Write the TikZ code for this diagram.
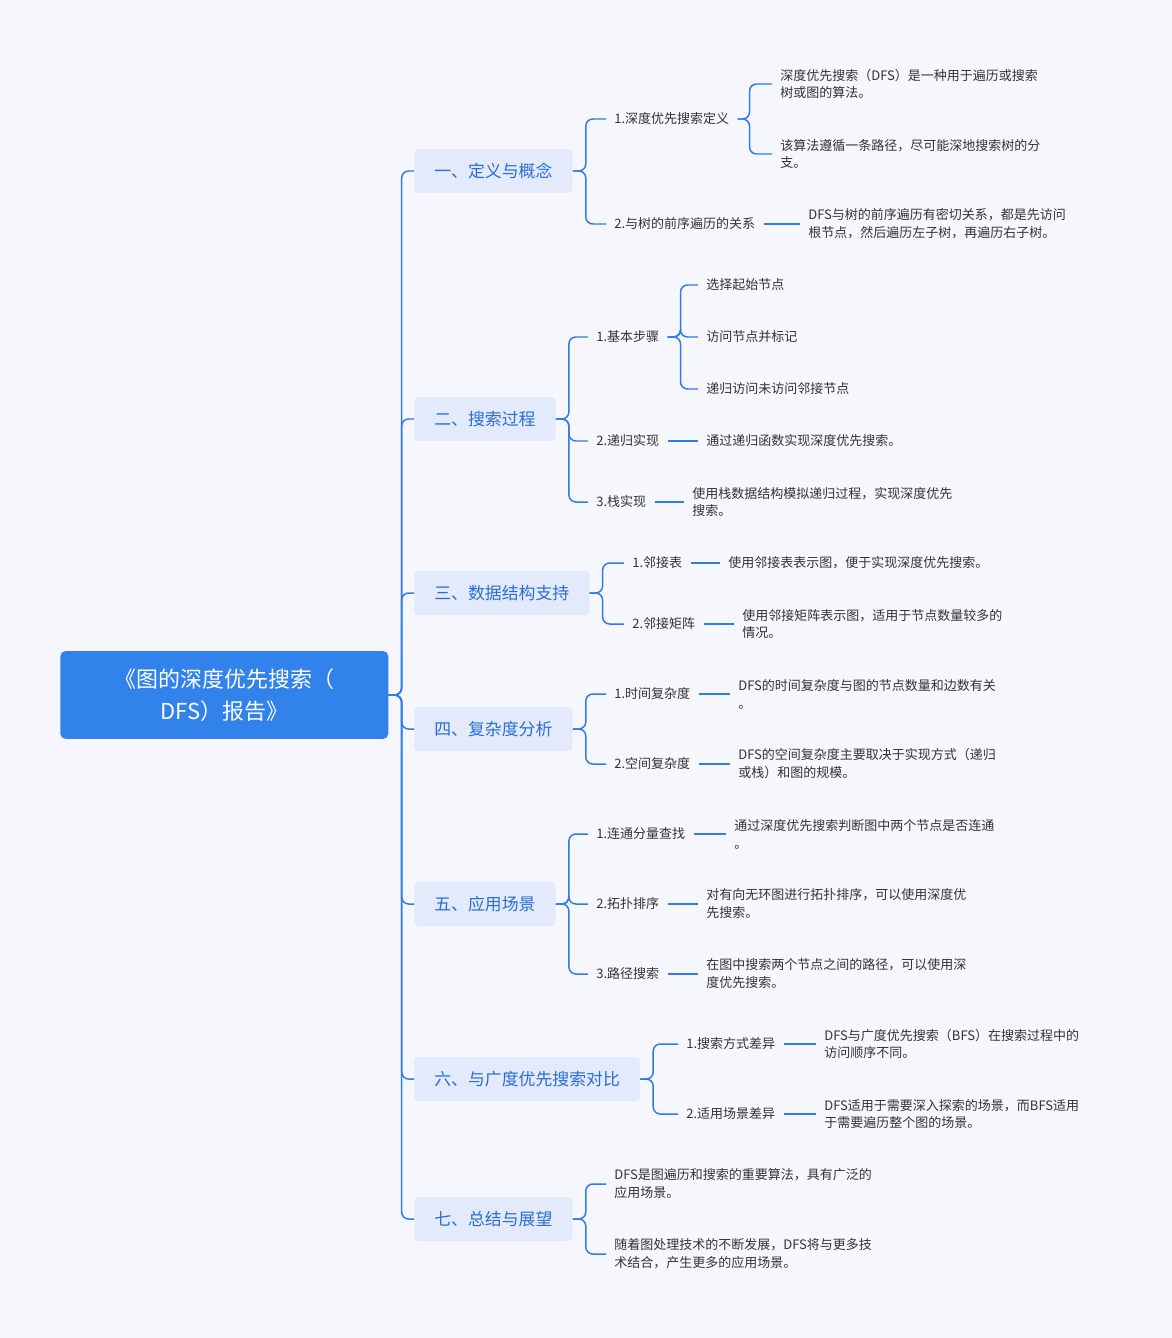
\documentclass[tikz,border=0pt]{standalone}
\usepackage{fontspec}
\setmainfont{Noto Sans CJK SC}
\usetikzlibrary{positioning}
\definecolor{bg}{HTML}{F5F7FD}
\definecolor{mainblue}{HTML}{3282EC}
\definecolor{lineblue}{HTML}{2F7BEA}
\definecolor{boxfill}{HTML}{E2EAFB}
\definecolor{boxtext}{HTML}{2B6DD5}
\definecolor{txt}{HTML}{333333}
\tikzset{
  rootbox/.style={fill=mainblue, text=white, rounded corners=3pt, minimum width=6.56cm,
    minimum height=1.76cm, text width=5.9cm, align=center, anchor=west,
    font=\fontsize{12.5}{18}\selectfont},
  topic/.style={fill=boxfill, text=boxtext, rounded corners=2pt, inner xsep=0.4cm,
    minimum height=0.88cm, anchor=west, font=\fontsize{9.6}{12}\selectfont},
  sub/.style={text=txt, inner xsep=0.16cm, inner ysep=0pt, anchor=west, align=left,
    font=\fontsize{7.4}{10.2}\selectfont},
  conn/.style={draw=lineblue, line width=0.85pt, rounded corners=4pt},
}
\begin{document}
\begin{tikzpicture}[x=0.02cm, y=-0.02cm]
  \fill[bg] (0,0) rectangle (1172,1338);
  \useasboundingbox (0,0) rectangle (1172,1338);
  % root and topics
  \node[rootbox] (R) at (60,695) {《图的深度优先搜索（\\DFS）报告》};
  \node[topic] (A) at (414,171) {一、定义与概念};
  \node[topic] (B) at (414,419) {二、搜索过程};
  \node[topic] (C) at (414,593) {三、数据结构支持};
  \node[topic] (D) at (414,729) {四、复杂度分析};
  \node[topic] (E) at (414,904) {五、应用场景};
  \node[topic] (F) at (414,1079) {六、与广度优先搜索对比};
  \node[topic] (G) at (414,1219) {七、总结与展望};
  \foreach \t in {A,B,C,D,E,F,G}
    \draw[conn] (R.east) -- ++(13,0) |- (\t.west);

  % 一
  \node[sub] (A1) at (606,119) {1.深度优先搜索定义};
  \node[sub] (A2) at (606,224) {2.与树的前序遍历的关系};
  \node[sub] (A11) at (772,84) {深度优先搜索（DFS）是一种用于遍历或搜索\\树或图的算法。};
  \node[sub] (A12) at (772,154) {该算法遵循一条路径，尽可能深地搜索树的分\\支。};
  \node[sub] (A21) at (800,224) {DFS与树的前序遍历有密切关系，都是先访问\\根节点，然后遍历左子树，再遍历右子树。};
  \foreach \t in {A1,A2} \draw[conn] (A.east) -- ++(13,0) |- (\t.west);
  \foreach \t in {A11,A12} \draw[conn] (A1.east) -- ++(12,0) |- (\t.west);
  \draw[conn] (A2.east) -- (A21.west);

  % 二
  \node[sub] (B1) at (588,337) {1.基本步骤};
  \node[sub] (B2) at (588,441) {2.递归实现};
  \node[sub] (B3) at (588,502) {3.栈实现};
  \node[sub] (B11) at (698,285) {选择起始节点};
  \node[sub] (B12) at (698,337) {访问节点并标记};
  \node[sub] (B13) at (698,389) {递归访问未访问邻接节点};
  \node[sub] (B21) at (698,441) {通过递归函数实现深度优先搜索。};
  \node[sub] (B31) at (684,502) {使用栈数据结构模拟递归过程，实现深度优先\\搜索。};
  \foreach \t in {B1,B2,B3} \draw[conn] (B.east) -- ++(13,0) |- (\t.west);
  \foreach \t in {B11,B12,B13} \draw[conn] (B1.east) -- ++(13,0) |- (\t.west);
  \draw[conn] (B2.east) -- (B21.west);
  \draw[conn] (B3.east) -- (B31.west);

  % 三
  \node[sub] (C1) at (624,563) {1.邻接表};
  \node[sub] (C2) at (624,624) {2.邻接矩阵};
  \node[sub] (C11) at (720,563) {使用邻接表表示图，便于实现深度优先搜索。};
  \node[sub] (C21) at (734,624) {使用邻接矩阵表示图，适用于节点数量较多的\\情况。};
  \foreach \t in {C1,C2} \draw[conn] (C.east) -- ++(13,0) |- (\t.west);
  \draw[conn] (C1.east) -- (C11.west);
  \draw[conn] (C2.east) -- (C21.west);

  % 四
  \node[sub] (D1) at (606,694) {1.时间复杂度};
  \node[sub] (D2) at (606,764) {2.空间复杂度};
  \node[sub] (D11) at (730,694) {DFS的时间复杂度与图的节点数量和边数有关\\。};
  \node[sub] (D21) at (730,764) {DFS的空间复杂度主要取决于实现方式（递归\\或栈）和图的规模。};
  \foreach \t in {D1,D2} \draw[conn] (D.east) -- ++(13,0) |- (\t.west);
  \draw[conn] (D1.east) -- (D11.west);
  \draw[conn] (D2.east) -- (D21.west);

  % 五
  \node[sub] (E1) at (588,834) {1.连通分量查找};
  \node[sub] (E2) at (588,904) {2.拓扑排序};
  \node[sub] (E3) at (588,974) {3.路径搜索};
  \node[sub] (E11) at (726,834) {通过深度优先搜索判断图中两个节点是否连通\\。};
  \node[sub] (E21) at (698,904) {对有向无环图进行拓扑排序，可以使用深度优\\先搜索。};
  \node[sub] (E31) at (698,974) {在图中搜索两个节点之间的路径，可以使用深\\度优先搜索。};
  \foreach \t in {E1,E2,E3} \draw[conn] (E.east) -- ++(13,0) |- (\t.west);
  \draw[conn] (E1.east) -- (E11.west);
  \draw[conn] (E2.east) -- (E21.west);
  \draw[conn] (E3.east) -- (E31.west);

  % 六
  \node[sub] (F1) at (678,1044) {1.搜索方式差异};
  \node[sub] (F2) at (678,1114) {2.适用场景差异};
  \node[sub] (F11) at (816,1044) {DFS与广度优先搜索（BFS）在搜索过程中的\\访问顺序不同。};
  \node[sub] (F21) at (816,1114) {DFS适用于需要深入探索的场景，而BFS适用\\于需要遍历整个图的场景。};
  \foreach \t in {F1,F2} \draw[conn] (F.east) -- ++(13,0) |- (\t.west);
  \draw[conn] (F1.east) -- (F11.west);
  \draw[conn] (F2.east) -- (F21.west);

  % 七
  \node[sub] (G1) at (606,1184) {DFS是图遍历和搜索的重要算法，具有广泛的\\应用场景。};
  \node[sub] (G2) at (606,1254) {随着图处理技术的不断发展，DFS将与更多技\\术结合，产生更多的应用场景。};
  \foreach \t in {G1,G2} \draw[conn] (G.east) -- ++(13,0) |- (\t.west);
\end{tikzpicture}
\end{document}
